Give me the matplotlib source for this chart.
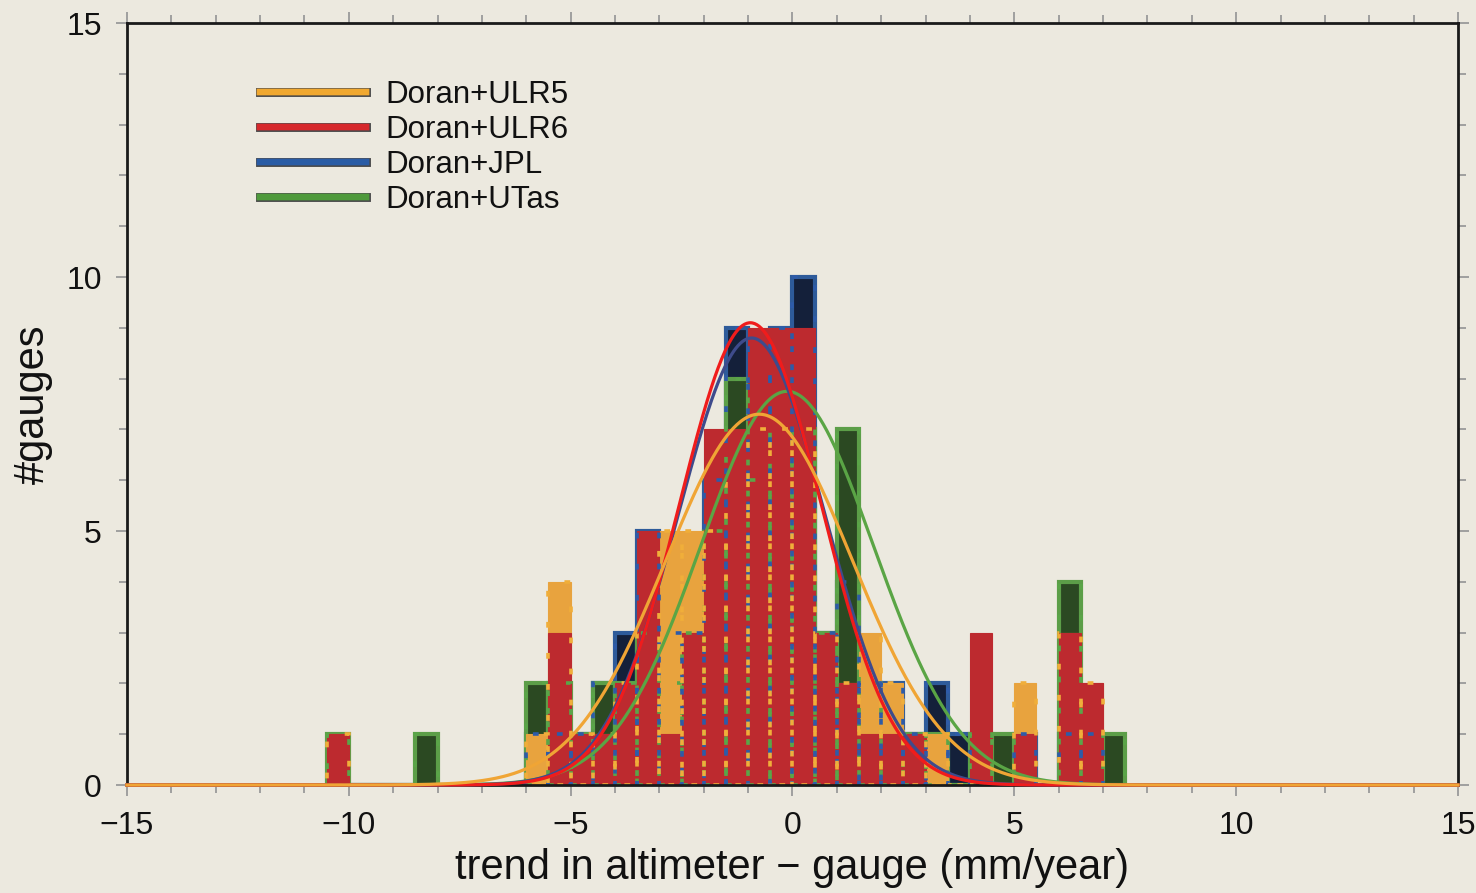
import numpy as np
import matplotlib
matplotlib.use("Agg")
import matplotlib.pyplot as plt
import matplotlib.patheffects as pe
from matplotlib.ticker import MultipleLocator

plt.rcParams['font.family'] = ['Liberation Sans', 'DejaVu Sans']

# ---- data -----------------------------------------------------------
bin_width = 0.5
bin_left = [-10.5, -10.0, -9.5, -9.0, -8.5, -8.0, -7.5, -7.0, -6.5, -6.0,
            -5.5, -5.0, -4.5, -4.0, -3.5, -3.0, -2.5, -2.0, -1.5, -1.0,
            -0.5, 0.0, 0.5, 1.0, 1.5, 2.0, 2.5, 3.0, 3.5, 4.0,
            4.5, 5.0, 5.5, 6.0, 6.5, 7.0]
counts_ulr5 = [1, 0, 0, 0, 0, 0, 0, 0, 0, 1,
               4, 1, 1, 2, 3, 5, 5, 5, 6, 7,
               7, 7, 3, 2, 3, 2, 1, 1, 0, 0,
               0, 2, 0, 3, 2, 0]
counts_ulr6 = [1, 0, 0, 0, 0, 0, 0, 0, 0, 0,
               3, 1, 1, 2, 5, 1, 3, 7, 7, 9,
               9, 9, 3, 2, 1, 1, 1, 0, 0, 3,
               0, 1, 0, 3, 2, 0]
counts_jpl = [0, 0, 0, 0, 0, 0, 0, 0, 0, 1,
              1, 1, 2, 3, 5, 3, 3, 6, 9, 8,
              9, 10, 3, 4, 2, 2, 1, 2, 1, 0,
              0, 1, 0, 1, 1, 0]
counts_utas = [1, 0, 0, 0, 1, 0, 0, 0, 0, 2,
               2, 1, 2, 2, 3, 2, 3, 5, 8, 6,
               7, 7, 3, 7, 2, 1, 1, 1, 0, 1,
               1, 0, 0, 4, 0, 1]

labels = ['Doran+ULR5', 'Doran+ULR6', 'Doran+JPL', 'Doran+UTas']
# fitted normal curves: (mean, sigma, peak count)
fit_mean = [-0.75, -0.95, -0.92, -0.12]
fit_sigma = [2.1, 1.6, 1.65, 1.95]
fit_peak = [7.3, 9.1, 8.8, 7.75]

x_ticks = [-15, -10, -5, 0, 5, 10, 15]
y_ticks = [0, 5, 10, 15]

# ---- styles ---------------------------------------------------------
bg = '#ece9df'
fill_col = {'ULR5': '#e8a33e', 'ULR6': '#bd2a2f', 'JPL': '#14203a', 'UTas': '#2b4922'}
edge_col = {'ULR5': '#e8a33e', 'ULR6': '#bd2a2f', 'JPL': '#2e5b9a', 'UTas': '#5c9e48'}
dot_col = {'ULR5': '#f0ae3a', 'JPL': '#2e5ba8', 'UTas': '#5aa548'}
curve_col = {'ULR5': '#f0a535', 'ULR6': '#f01c1c', 'JPL': '#3e4b8c', 'UTas': '#5aa545'}
legend_col = {'ULR5': '#f0a830', 'ULR6': '#d6282c', 'JPL': '#2a5ca5', 'UTas': '#4f9a3c'}

fig = plt.figure(figsize=(14.76, 8.93), dpi=100, facecolor=bg)
ax = fig.add_axes([0.0860, 0.1209, 0.9018, 0.8533], facecolor=bg)

series = {'ULR5': counts_ulr5, 'ULR6': counts_ulr6, 'JPL': counts_jpl, 'UTas': counts_utas}
left = np.array(bin_left)

# filled bars, bottom to top
for z, key in enumerate(['JPL', 'UTas', 'ULR5', 'ULR6']):
    lw = 3.0 if key in ('JPL', 'UTas') else 0.8
    ax.bar(left, series[key], width=bin_width, align='edge',
           color=fill_col[key], edgecolor=edge_col[key], linewidth=lw, zorder=2 + z * 0.1)

# dotted outlines drawn over the fills
for key, off in [('UTas', 0), ('JPL', 3), ('ULR5', 6)]:
    ax.bar(left, series[key], width=bin_width, align='edge', fill=False,
           edgecolor=dot_col[key], linewidth=2.6, linestyle=(off, (1.6, 7)), zorder=3)

# fitted curves
xs = np.linspace(-15, 15, 1201)
order = [('UTas', 3), ('JPL', 2), ('ULR6', 1), ('ULR5', 0)]
for key, i in order:
    ys = fit_peak[i] * np.exp(-0.5 * ((xs - fit_mean[i]) / fit_sigma[i]) ** 2)
    ax.plot(xs, ys, color=curve_col[key], lw=2.3, zorder=6, clip_on=False)

# legend proxies
handles = []
for key, lab in zip(['ULR5', 'ULR6', 'JPL', 'UTas'], labels):
    h, = ax.plot([], [], color=legend_col[key], lw=4.6, label=lab,
                 path_effects=[pe.withStroke(linewidth=6.4, foreground='#4a4a4a'), pe.Normal()])
    handles.append(h)
leg = ax.legend(handles=handles, loc='upper left', bbox_to_anchor=(0.0999, 0.925),
                frameon=False, fontsize=22.5, handlelength=3.4, handletextpad=0.6,
                labelspacing=0.16, borderpad=0, borderaxespad=0)
for t in leg.get_texts():
    t.set_color('#111111')

ax.set_xlim(-15, 15)
ax.set_ylim(0, 15)
ax.set_xticks(x_ticks)
ax.set_yticks(y_ticks)
ax.set_xticklabels(['\u221215', '\u221210', '\u22125', '0', '5', '10', '15'])
ax.xaxis.set_minor_locator(MultipleLocator(1))
ax.yaxis.set_minor_locator(MultipleLocator(1))
ax.tick_params(which='both', direction='out', top=True, right=True, colors='#9a9a9a',
               labelcolor='#111111', labelsize=23, width=1.3)
ax.tick_params(which='major', length=8)
ax.tick_params(which='minor', length=5.5)
ax.tick_params(axis='x', pad=11)
ax.tick_params(axis='y', pad=10)

for s in ax.spines.values():
    s.set_color('#1a1a1a')
    s.set_linewidth(2.0)
    s.set_zorder(5)

ax.set_xlabel('trend in altimeter \u2212 gauge (mm/year)', fontsize=30, color='#111111', labelpad=5)
ax.set_ylabel('#gauges', fontsize=30, color='#111111', labelpad=10)

fig.savefig('out.png', dpi=100, facecolor=bg)
